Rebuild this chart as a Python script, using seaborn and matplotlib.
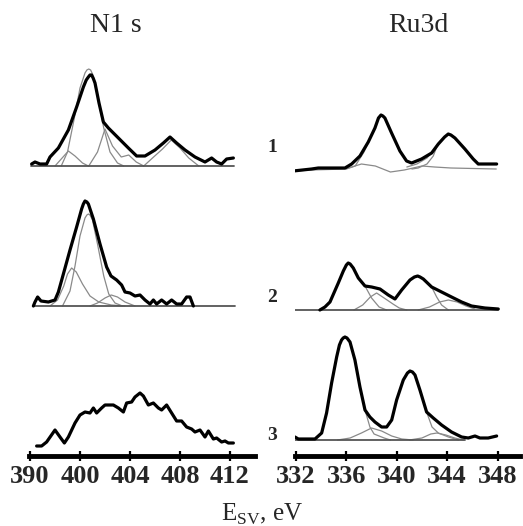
#XPS spectra: N1s and Ru3d, three samples each
from matplotlib import pyplot as plt
import pandas as pd
import seaborn as sns

# ---- data: (binding energy, eV ; intensity, a.u.) ----
N1S_1_ENV = [(396.13, 2), (396.4, 4), (396.8, 2), (397.33, 2), (397.6, 9), (398.27, 18), (399.07, 36),
             (399.73, 59), (400.27, 79), (400.5, 86), (400.67, 89), (400.8, 91), (400.93, 91), (401.05, 88),
             (401.2, 83), (401.52, 63), (401.87, 44),
             (402.27, 38), (403.07, 28), (403.87, 18), (404.53, 10), (405.2, 10), (406.0, 16), (406.67, 23),
             (407.2, 29), (407.73, 23), (408.4, 16), (409.2, 9), (410.0, 4), (410.53, 8), (410.93, 4),
             (411.33, 2), (411.73, 7), (412.27, 8)]
N1S_1_C1 = [(398.0, 0), (398.5, 7), (399.07, 15), (399.6, 10), (400.2, 3), (400.67, 0)]
N1S_1_C2 = [(398.5, 0), (399.0, 14), (399.5, 45), (400.0, 78), (400.4, 93), (400.55, 96), (400.7, 97),
            (400.85, 96), (401.0, 92), (401.4, 70), (401.9, 38), (402.4, 14), (403.0, 3), (403.5, 0)]
N1S_1_C3 = [(400.7, 0), (401.4, 14), (402.0, 37), (402.6, 20), (403.3, 9), (403.9, 11), (404.5, 4), (405.1, 0)]
N1S_1_C4 = [(405.1, 0), (405.8, 8), (406.6, 17), (407.3, 26), (408.0, 18), (408.7, 8), (409.5, 0)]
N1S_1_BASE = [(396.1, 0), (412.3, 0)]

N1S_2_ENV = [(396.27, 0), (396.4, 4), (396.61, 9), (396.88, 5), (397.47, 4), (398.0, 6), (398.27, 14),
             (398.67, 32), (399.2, 56), (399.73, 79), (400.13, 97), (400.27, 102), (400.4, 105), (400.55, 104),
             (400.67, 102), (401.07, 87),
             (401.6, 62), (402.13, 39), (402.48, 30), (402.93, 26), (403.33, 21), (403.6, 14), (404.0, 13),
             (404.4, 10), (404.8, 11), (405.2, 6), (405.6, 2), (405.87, 6), (406.13, 2), (406.53, 6),
             (406.93, 2), (407.33, 6), (407.73, 2), (408.13, 2), (408.53, 9), (408.8, 9), (409.07, 0)]
N1S_2_C1 = [(397.6, 0), (398.2, 6), (398.7, 20), (399.0, 32), (399.33, 38), (399.7, 34), (400.2, 22),
            (400.8, 10), (401.5, 4), (402.5, 1), (403.6, 0)]
N1S_2_C2 = [(398.6, 0), (399.2, 15), (399.6, 40), (400.0, 70), (400.4, 88), (400.55, 91), (400.67, 92),
            (400.8, 91), (401.0, 86), (401.4, 62), (401.9, 30), (402.3, 12), (402.8, 3), (403.4, 0)]
N1S_2_C3 = [(400.8, 0), (401.4, 3), (402.0, 8), (402.5, 11), (403.0, 9), (403.6, 4), (404.4, 0)]
N1S_2_BASE = [(396.3, 0), (412.4, 0)]

N1S_3_ENV = [(396.53, 0), (396.93, 0), (397.33, 4), (398.0, 16), (398.4, 9), (398.75, 3), (399.07, 9),
             (399.6, 23), (400.0, 31), (400.4, 34), (400.8, 33), (401.07, 38), (401.33, 33), (401.73, 38),
             (402.0, 41), (402.67, 41), (403.07, 38), (403.47, 34), (403.73, 43), (404.13, 44), (404.4, 49),
             (404.8, 53), (405.07, 50), (405.47, 41), (405.87, 43), (406.27, 38), (406.53, 36), (406.93, 41),
             (407.33, 33), (407.73, 25), (408.13, 25), (408.53, 19), (408.93, 17), (409.2, 14), (409.6, 16),
             (410.0, 9), (410.27, 15), (410.67, 7), (410.93, 8), (411.33, 4), (411.6, 5), (411.87, 3),
             (412.27, 3)]

RU_1_ENV = [(331.79, -1), (333.24, 1), (333.77, 2), (335.89, 2), (336.42, 6), (337.08, 14), (337.74, 28),
            (338.27, 42), (338.55, 52), (338.75, 55), (338.9, 54), (339.06, 52), (339.59, 37), (340.25, 19),
            (340.78, 9), (341.18, 7), (341.97, 11), (342.77, 17), (343.3, 26), (343.8, 33), (344.09, 36),
            (344.3, 35), (344.62, 32), (345.41, 21), (346.07, 11), (346.47, 6), (347.0, 6), (347.93, 6)]
RU_1_C1 = [(331.8, -1), (333.2, 0), (335.9, 1), (337.2, 6), (338.3, 4), (339.5, -2), (340.6, 0), (342.0, 4),
           (343.0, 3), (344.3, 2), (347.9, 1)]
RU_1_C2 = [(336.0, 1), (336.7, 4), (337.4, 18), (337.9, 32)]
RU_1_C3 = [(340.8, 3), (341.6, 6), (342.4, 12), (343.2, 24), (342.9, 14), (342.4, 6), (341.7, 2), (341.2, 1)]

RU_2_ENV = [(333.9, 0), (334.3, 3), (334.7, 8), (335.36, 27), (335.76, 39), (336.0, 45), (336.15, 47),
            (336.3, 46), (336.55, 42), (336.95, 32), (337.48, 24), (338.01, 23), (338.67, 21), (339.33, 15),
            (339.86, 11), (340.39, 20), (341.05, 30), (341.4, 33), (341.66, 34), (341.85, 33), (342.11, 31),
            (342.77, 23), (343.56, 18), (344.35, 13), (345.15, 8), (345.94, 4), (347.0, 2), (348.06, 1)]
RU_2_C1 = [(337.48, 24), (338.0, 12), (338.6, 3), (339.2, 0)]
RU_2_C2 = [(336.6, 0), (337.3, 5), (337.9, 13), (338.4, 17), (339.0, 12), (339.7, 6), (340.2, 2), (340.8, 0)]
RU_2_C3 = [(342.77, 23), (343.17, 13), (343.56, 5), (344.1, 0)]
RU_2_C4 = [(341.7, 0), (342.6, 3), (343.4, 8), (344.1, 10), (344.8, 8), (345.5, 4), (346.2, 1)]
RU_2_BASE = [(331.9, 0), (348.06, 0)]

RU_3_ENV = [(331.92, 3), (332.19, 1), (333.51, 1), (334.04, 7), (334.43, 27), (334.83, 57), (335.23, 83),
            (335.45, 95), (335.62, 100), (335.75, 102), (335.89, 103), (336.05, 102), (336.29, 98),
            (336.68, 80), (337.08, 53), (337.48, 30), (337.87, 23),
            (338.27, 18), (338.8, 13), (339.2, 13), (339.6, 20), (339.99, 40), (340.52, 60), (340.85, 67),
            (341.05, 69), (341.25, 68), (341.45, 65), (341.84, 50), (342.37, 28), (342.9, 22), (343.56, 15),
            (344.35, 8), (345.15, 3), (345.68, 2), (346.21, 4), (346.6, 2), (347.26, 2), (347.93, 4)]
RU_3_C1 = [(337.48, 30), (337.87, 13), (338.2, 6), (338.6, 4), (339.0, 2), (339.5, 0)]
RU_3_C2 = [(335.3, 0), (336.3, 2), (337.2, 7), (338.0, 12), (338.8, 9), (339.6, 4), (340.4, 1), (341.3, 0)]
RU_3_C3 = [(342.37, 28), (342.8, 13), (343.3, 7), (344.1, 3), (344.9, 0)]
RU_3_C4 = [(341.0, 0), (342.0, 2), (342.7, 6), (343.2, 7), (343.9, 5), (344.6, 2), (345.3, 0)]
RU_3_BASE = [(331.9, 0), (345.4, 0)]

N1S_TICKS = [396, 400, 404, 408, 412]
N1S_TICKLABELS = ['390', '400', '404', '408', '412']
RU_TICKS = [332, 336, 340, 344, 348]
RU_TICKLABELS = ['332', '336', '340', '344', '348']
SAMPLES = ['1', '2', '3']

# vertical offsets of the stacked spectra (top, middle, bottom)
N1S_OFFSETS = [290, 150, 10]
RU_OFFSETS = [286, 146, 16]


def to_frame(curves, offset, tag):
    #turn list of (E, I) curves into one long dataframe
    rows = []
    for i, c in enumerate(curves):
        for e, v in c:
            rows.append({'E': e, 'I': v + offset, 'curve': f'{tag}_{i}'})
    return pd.DataFrame(rows, columns=['E', 'I', 'curve'])


def line(ax, df, color, lw):
    if df.empty:
        return
    sns.lineplot(data=df, x='E', y='I', units='curve', estimator=None, sort=False,
                 color=color, lw=lw, ax=ax, legend=False)


def draw(ax, env, comps, base, offsets):
    for k in range(3):
        line(ax, to_frame(comps[k], offsets[k], 'c'), '#8a8a8a', 0.9)
        if base[k]:
            line(ax, to_frame([base[k]], offsets[k], 'b'), '#555555', 1.3)
        line(ax, to_frame([env[k]], offsets[k], 'e'), 'black', 2.3)


sns.set_theme(style='white')
plt.rcParams['font.family'] = ['Liberation Serif', 'DejaVu Serif']
plt.rcParams['mathtext.fontset'] = 'custom'
plt.rcParams['mathtext.rm'] = 'Liberation Serif'

W, H = 523, 526
fig = plt.figure(figsize=(W / 100, H / 100), dpi=100)
axL = fig.add_axes([28.75 / W, 70 / H, 226.25 / W, 396 / H])
axR = fig.add_axes([294.7 / W, 70 / H, 225.5 / W, 396 / H])

draw(axL, [N1S_1_ENV, N1S_2_ENV, N1S_3_ENV],
     [[N1S_1_C1, N1S_1_C2, N1S_1_C3, N1S_1_C4], [N1S_2_C1, N1S_2_C2, N1S_2_C3], []],
     [N1S_1_BASE, N1S_2_BASE, None], N1S_OFFSETS)
draw(axR, [RU_1_ENV, RU_2_ENV, RU_3_ENV],
     [[RU_1_C1, RU_1_C2, RU_1_C3], [RU_2_C1, RU_2_C2, RU_2_C3, RU_2_C4], [RU_3_C1, RU_3_C2, RU_3_C3, RU_3_C4]],
     [None, RU_2_BASE, RU_3_BASE], RU_OFFSETS)

for ax, lim, ticks, labels in [(axL, (395.9, 414.0), N1S_TICKS, N1S_TICKLABELS),
                               (axR, (331.9, 349.8), RU_TICKS, RU_TICKLABELS)]:
    ax.set_xlim(*lim)
    ax.set_ylim(0, 396)
    ax.set_xticks(ticks)
    ax.set_xticklabels(labels, fontsize=19, fontweight='bold')
    ax.set_yticks([])
    ax.set_xlabel('')
    ax.set_ylabel('')
    ax.patch.set_alpha(0)
    for s in ['top', 'left', 'right']:
        ax.spines[s].set_visible(False)
    ax.spines['bottom'].set_linewidth(3.5)
    ax.spines['bottom'].set_color('black')
    ax.tick_params(axis='x', direction='inout', length=7, width=1.6, color='black', pad=3, bottom=True)

fig.text(116 / W, 1 - 25 / H, 'N1 s', ha='center', va='center', fontsize=20)
fig.text(418 / W, 1 - 25 / H, 'Ru3d', ha='center', va='center', fontsize=20)
for lab, y in zip(SAMPLES, [147, 297, 435]):
    fig.text(272 / W, 1 - y / H, lab, ha='center', va='center', fontsize=14, fontweight='bold')
fig.text(262 / W, 1 - 514 / H, r'E$_{\rm SV}$, eV', ha='center', va='center', fontsize=18)

plt.savefig('out.png', dpi=100)
